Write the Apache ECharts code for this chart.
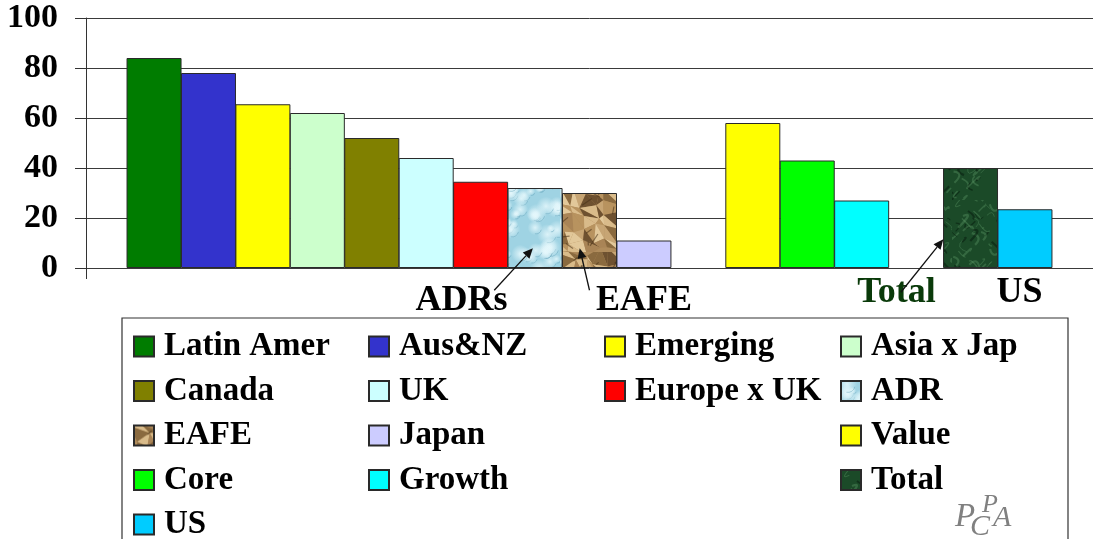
<!DOCTYPE html>
<html>
<head>
<meta charset="utf-8">
<script src="https://cdn.jsdelivr.net/npm/echarts@6/dist/echarts.min.js"></script>
<style>
  html, body { margin: 0; padding: 0; background: #fff; }
  #chart { width: 1093px; height: 539px; }
</style>
</head>
<body>
<div id="chart"></div>
<script>
// Market segments, in drawing order
const categories = ['Latin Amer', 'Aus&NZ', 'Emerging', 'Asia x Jap', 'Canada', 'UK',
  'Europe x UK', 'ADR', 'EAFE', 'Japan', 'Value', 'Core', 'Growth', 'Total', 'US'];
// Bar heights
const values = [84, 78, 65.5, 62, 52, 44, 34.5, 32, 30, 11, 58, 43, 27, 40, 23.5];
// Slot on the horizontal axis for each bar (gaps separate the three groups)
const slots = [0, 1, 2, 3, 4, 5, 6, 7, 8, 9, 11, 12, 13, 15, 16];
// Value-axis tick labels
const yTicks = [0, 20, 40, 60, 80, 100];
// Legend columns (top to bottom)
const legendCol1 = ['Latin Amer', 'Canada', 'EAFE', 'Core', 'US'];
const legendCol2 = ['Aus&NZ', 'UK', 'Japan', 'Growth'];
const legendCol3 = ['Emerging', 'Europe x UK'];
const legendCol4 = ['Asia x Jap', 'ADR', 'Value', 'Total'];
// Callout labels
const calloutText = ['ADRs', 'EAFE', 'Total', 'US'];

// ---- procedural fills for the textured bars ----
function hash(n) { const s = Math.sin(n * 127.1 + 311.7) * 43758.5453; return s - Math.floor(s); }

function waterTexture() {
  const c = document.createElement('canvas'); c.width = 56; c.height = 90;
  const g = c.getContext('2d');
  g.fillStyle = '#9fd3e3'; g.fillRect(0, 0, 56, 90);
  for (let i = 0; i < 45; i++) {
    const x = hash(i) * 56, y = hash(i + 100) * 90, r = 3 + hash(i + 200) * 8;
    const rg = g.createRadialGradient(x, y, 0, x, y, r);
    rg.addColorStop(0, 'rgba(230,248,252,0.85)');
    rg.addColorStop(1, 'rgba(230,248,252,0)');
    g.fillStyle = rg; g.beginPath(); g.arc(x, y, r, 0, Math.PI * 2); g.fill();
    g.strokeStyle = 'rgba(95,160,185,0.45)'; g.lineWidth = 1;
    g.beginPath(); g.arc(x + 1, y + 1, r * 0.7, 0.2, 1.8); g.stroke();
  }
  return c;
}
// Crumpled paper: a jittered triangle mesh with facets of varying shade
function paperTexture() {
  const W = 56, H = 84, step = 12;
  const c = document.createElement('canvas'); c.width = W; c.height = H;
  const g = c.getContext('2d');
  g.fillStyle = '#b08c5c'; g.fillRect(0, 0, W, H);
  const cols = W / step + 1, rows = H / step + 1;
  const pt = (i, j) => {
    const wi = i % (cols - 1), wj = j % (rows - 1);
    const jx = (hash(wi * 31 + wj * 7 + 1) - 0.5) * step * 0.8;
    const jy = (hash(wi * 17 + wj * 13 + 5) - 0.5) * step * 0.8;
    return [i * step + jx, j * step + jy];
  };
  const shades = ['#d9bb8a', '#c7a574', '#a98456', '#8a6a3f', '#6e5130', '#e2c89a', '#b8935f'];
  let k = 0;
  for (let j = 0; j < rows - 1; j++) {
    for (let i = 0; i < cols - 1; i++) {
      const a = pt(i, j), b = pt(i + 1, j), d = pt(i, j + 1), e = pt(i + 1, j + 1);
      [[a, b, e], [a, e, d]].forEach(tri => {
        g.fillStyle = shades[Math.floor(hash(k++ + 40) * shades.length)];
        g.beginPath(); g.moveTo(tri[0][0], tri[0][1]);
        g.lineTo(tri[1][0], tri[1][1]); g.lineTo(tri[2][0], tri[2][1]); g.closePath(); g.fill();
      });
    }
  }
  for (let i = 0; i < 18; i++) {
    const x = hash(i + 300) * W, y = hash(i + 400) * H;
    const dx = (hash(i + 500) - 0.5) * 26, dy = (hash(i + 600) - 0.5) * 26;
    g.strokeStyle = 'rgba(70,48,22,0.55)'; g.lineWidth = 1.2;
    g.beginPath(); g.moveTo(x, y); g.lineTo(x + dx, y + dy); g.stroke();
  }
  return c;
}
function marbleTexture() {
  const c = document.createElement('canvas'); c.width = 56; c.height = 100;
  const g = c.getContext('2d');
  g.fillStyle = '#1b4a28'; g.fillRect(0, 0, 56, 100);
  for (let i = 0; i < 60; i++) {
    const x = hash(i + 800) * 56, y = hash(i + 900) * 100;
    const dx = (hash(i + 1000) - 0.5) * 24, dy = (hash(i + 1100) - 0.5) * 24;
    g.strokeStyle = i % 3 ? 'rgba(100,160,110,0.35)' : 'rgba(8,30,14,0.55)';
    g.lineWidth = 0.8 + hash(i + 1200) * 1.5;
    g.beginPath(); g.moveTo(x, y);
    g.quadraticCurveTo(x + dy, y + dx, x + dx, y + dy); g.stroke();
  }
  return c;
}

const fills = {
  'Latin Amer': '#007c00', 'Aus&NZ': '#3333cc', 'Emerging': '#ffff00', 'Asia x Jap': '#ccffcc',
  'Canada': '#808000', 'UK': '#ccffff', 'Europe x UK': '#ff0000',
  'ADR': { image: waterTexture(), repeat: 'repeat' },
  'EAFE': { image: paperTexture(), repeat: 'repeat' },
  'Japan': '#ccccff', 'Value': '#ffff00', 'Core': '#00ff00', 'Growth': '#00ffff',
  'Total': { image: marbleTexture(), repeat: 'repeat' },
  'US': '#00ccff'
};

const serif = '"Liberation Serif", "Times New Roman", serif';
const chart = echarts.init(document.getElementById('chart'), null, { renderer: 'canvas' });

const series = categories.map((name, i) => ({
  name: name,
  type: 'bar',
  barWidth: 55,
  barGap: '-100%',
  data: [[slots[i], values[i]]],
  itemStyle: { color: fills[name], borderColor: '#2a2a2a', borderWidth: 1 },
  emphasis: { disabled: true }
}));

function legendColumn(names, left) {
  return {
    data: names, orient: 'vertical', left: left, top: 330, height: 260, padding: 0,
    itemWidth: 20, itemHeight: 20, itemGap: 11.5, icon: 'rect',
    selectedMode: false,
    textStyle: { fontFamily: serif, fontWeight: 'bold', fontSize: 33, color: '#000',
      lineHeight: 32, padding: [0, 0, 0, 5] }
  };
}

chart.setOption({
  animation: false,
  backgroundColor: '#fff',
  grid: { left: 86, top: 18, width: 1016, height: 250, containLabel: false },
  xAxis: {
    type: 'value', min: -1.25, max: 17.25,
    axisLine: { show: false },
    splitLine: { show: false },
    axisLabel: { show: false },
    axisTick: { show: true, length: 11, customValues: [-1.25], lineStyle: { color: '#333' } }
  },
  yAxis: {
    type: 'value', min: yTicks[0], max: yTicks[yTicks.length - 1], interval: 20,
    axisLine: { show: true, onZero: false, lineStyle: { color: '#333', width: 1 } },
    axisTick: { show: true, length: 11, lineStyle: { color: '#333' } },
    splitLine: { show: true, lineStyle: { color: '#3a3a3a', width: 1 } },
    axisLabel: { margin: 28, fontFamily: serif, fontWeight: 'bold', fontSize: 34, color: '#000' }
  },
  legend: [
    legendColumn(legendCol1, 133),
    legendColumn(legendCol2, 368),
    legendColumn(legendCol3, 604),
    legendColumn(legendCol4, 840)
  ],
  series: series
});

// Callouts: label under the axis, optional arrow into the bar
const calloutSpec = [
  { label: [5.65, -12.9], arrowFrom: [6.25, -8.9], arrowTo: [6.96, 7.9], color: '#000' },
  { label: [9.0, -12.9], arrowFrom: [8.0, -8.9], arrowTo: [7.82, 7.9], color: '#000' },
  { label: [13.64, -9.7], arrowFrom: [13.72, -9.7], arrowTo: [14.5, 11.5], color: '#0a3a0a' },
  { label: [15.9, -9.7], arrowFrom: null, arrowTo: null, color: '#000' }
];
const px = p => chart.convertToPixel({ gridIndex: 0 }, p);
const graphics = [];
calloutText.forEach((t, i) => {
  const s = calloutSpec[i];
  const lp = px(s.label);
  graphics.push({ type: 'text', z: 100, style: { text: t, x: lp[0], y: lp[1], align: 'center',
    verticalAlign: 'middle', font: 'bold 36px ' + serif, fill: s.color } });
  if (s.arrowFrom) {
    const a = px(s.arrowFrom), b = px(s.arrowTo);
    const ang = Math.atan2(b[1] - a[1], b[0] - a[0]);
    const L = 10, W = 4.5;
    const bx = b[0] - L * Math.cos(ang), by = b[1] - L * Math.sin(ang);
    graphics.push({ type: 'line', z: 100, shape: { x1: a[0], y1: a[1], x2: bx, y2: by },
      style: { stroke: '#111', lineWidth: 1.3 } });
    graphics.push({ type: 'polygon', z: 100, shape: { points: [
      [b[0], b[1]],
      [bx + W * Math.sin(ang), by - W * Math.cos(ang)],
      [bx - W * Math.sin(ang), by + W * Math.cos(ang)]
    ] }, style: { fill: '#111' } });
  }
});
// Legend frame
graphics.push({ type: 'rect', z: 0, shape: { x: 122, y: 318, width: 946, height: 240 },
  style: { fill: 'none', stroke: '#333', lineWidth: 1.2 } });
// Corner monogram
const logoFont = sz => 'italic ' + sz + 'px ' + serif;
const logoGrey = '#808080';
graphics.push({ type: 'text', style: { text: 'P', x: 955, y: 517, verticalAlign: 'middle', font: logoFont(33), fill: logoGrey } });
graphics.push({ type: 'text', style: { text: 'C', x: 970, y: 527, verticalAlign: 'middle', font: logoFont(30), fill: logoGrey } });
graphics.push({ type: 'text', style: { text: 'P', x: 982, y: 505, verticalAlign: 'middle', font: logoFont(26), fill: logoGrey } });
graphics.push({ type: 'text', style: { text: 'A', x: 993, y: 518, verticalAlign: 'middle', font: logoFont(30), fill: logoGrey } });

chart.setOption({ graphic: graphics });
</script>
</body>
</html>
